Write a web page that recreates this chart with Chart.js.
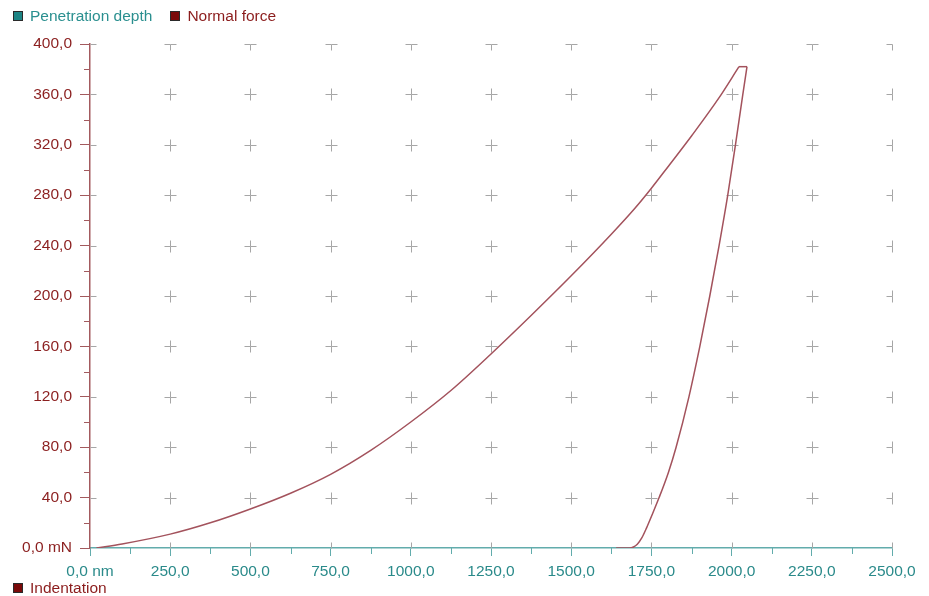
<!DOCTYPE html>
<html>
<head>
<meta charset="utf-8">
<title>Indentation</title>
<script src="https://cdn.jsdelivr.net/npm/chart.js@4.4.0/dist/chart.umd.min.js"></script>
<style>
  body { margin: 0; background: #fff; }
  #wrap { position: relative; width: 929px; height: 596px; font-family: "Liberation Sans", Arial, sans-serif; font-size: 15.5px; }
  #chart { position: absolute; left: 0; top: 0; }
  .legend { position: absolute; display: flex; align-items: center; white-space: nowrap; line-height: 16px; }
  .box { display: inline-block; width: 8px; height: 8px; border: 1px solid #2a2a2a; margin-right: 7px; }
</style>
</head>
<body>
<div id="wrap">
  <canvas id="chart" width="929" height="596"></canvas>
  <div class="legend" style="left:13px; top:8px;">
    <span class="box" style="background:#1d8585"></span><span style="color:#2a8f8f">Penetration depth</span>
    <span class="box" style="background:#7a0a0a; margin-left:18px"></span><span style="color:#8b1c1c">Normal force</span>
  </div>
  <div class="legend" style="left:13px; top:580px;">
    <span class="box" style="background:#7a0a0a"></span><span style="color:#8b1c1c">Indentation</span>
  </div>
</div>
<script>
// loading branch (nm / mN)
const loadDepth = [20, 100, 250, 375, 500, 625, 750, 875, 1000, 1125, 1250, 1375, 1500, 1625, 1700, 1750, 1800, 1875, 1960, 2023];
const loadForce = [0, 3.2, 11, 20, 31, 43.5, 58.5, 77.5, 100, 125, 154, 184.5, 216, 249, 270, 285.5, 302, 327, 357, 382];

// hold at max load
const holdDepth = [2023, 2048];
const holdForce = [382, 382];

// unloading branch
const unloadDepth = [2048, 2035, 2012, 1988, 1961, 1932, 1901, 1867, 1827, 1803, 1774, 1750, 1735, 1720, 1706, 1694, 1682, 1640];
const unloadForce = [382, 360, 320, 280, 240, 200, 160, 120, 80, 60, 40, 25, 16, 8, 3, 0.8, 0, 0];

const depthTicks = [0, 250, 500, 750, 1000, 1250, 1500, 1750, 2000, 2250, 2500];
const forceTicks = [0, 40, 80, 120, 160, 200, 240, 280, 320, 360, 400];

const curveColor = '#a3525c';
const forceAxisColor = '#a35a5e';
const forceLabelColor = '#8b1f1f';
const depthAxisColor = '#62acac';
const depthLabelColor = '#2a8a8a';
const labelFont = { family: '"Liberation Sans", Arial, sans-serif', size: 15.5 };

const toPoints = (xs, ys) => xs.map((v, i) => ({ x: v, y: ys[i] }));
const fmt = v => v.toFixed(1).replace('.', ',');

// grey "+" marks at every grid crossing, plus the minor ticks on both axes
const crossMarks = {
  id: 'crossMarks',
  beforeDatasetsDraw(chart) {
    const { ctx, scales: { x, y }, chartArea } = chart;
    const arm = 6;
    ctx.save();
    ctx.lineWidth = 1;
    ctx.strokeStyle = '#a6a6a6';
    ctx.beginPath();
    depthTicks.forEach(xv => {
      forceTicks.forEach(yv => {
        const px = Math.round(x.getPixelForValue(xv)) + 0.5;
        const py = Math.round(y.getPixelForValue(yv)) + 0.5;
        if (yv > y.min) {
          if (xv > x.min) { ctx.moveTo(px - arm, py); ctx.lineTo(px, py); }
          if (xv < x.max) { ctx.moveTo(px, py); ctx.lineTo(px + arm, py); }
        }
        if (xv > x.min) {
          if (yv < y.max) { ctx.moveTo(px, py); ctx.lineTo(px, py - arm); }
          if (yv > y.min) { ctx.moveTo(px, py); ctx.lineTo(px, py + arm); }
        }
      });
    });
    ctx.stroke();

    // minor ticks
    ctx.strokeStyle = forceAxisColor;
    ctx.beginPath();
    for (let v = 20; v < 400; v += 40) {
      const py = Math.round(y.getPixelForValue(v)) + 0.5;
      ctx.moveTo(chartArea.left - 6, py);
      ctx.lineTo(chartArea.left, py);
    }
    ctx.stroke();
    ctx.strokeStyle = depthAxisColor;
    ctx.beginPath();
    for (let v = 125; v < 2500; v += 250) {
      const px = Math.round(x.getPixelForValue(v)) + 0.5;
      ctx.moveTo(px, chartArea.bottom);
      ctx.lineTo(px, chartArea.bottom + 6);
    }
    ctx.stroke();
    ctx.restore();
  }
};

const lineStyle = { borderColor: curveColor, borderWidth: 1.5, pointRadius: 0, showLine: true, fill: false };

new Chart(document.getElementById('chart'), {
  type: 'scatter',
  data: {
    datasets: [
      { label: 'Indentation', data: toPoints(loadDepth, loadForce), cubicInterpolationMode: 'monotone', ...lineStyle },
      { label: 'Hold', data: toPoints(holdDepth, holdForce), ...lineStyle },
      { label: 'Unload', data: toPoints(unloadDepth, unloadForce), cubicInterpolationMode: 'monotone', ...lineStyle }
    ]
  },
  options: {
    responsive: false,
    animation: false,
    devicePixelRatio: 1,
    layout: { padding: { top: 44, right: 37, bottom: 18, left: 0 } },
    plugins: { legend: { display: false }, tooltip: { enabled: false } },
    scales: {
      x: {
        type: 'linear',
        min: 0,
        max: 2500,
        afterBuildTicks: scale => { scale.ticks = depthTicks.map(v => ({ value: v })); },
        afterFit: scale => { scale.height = 30; },
        border: { color: depthAxisColor, width: 1.5 },
        grid: { drawOnChartArea: false, drawTicks: true, tickLength: 8, color: depthAxisColor, tickColor: depthAxisColor },
        ticks: {
          color: depthLabelColor,
          padding: 6,
          maxRotation: 0,
          font: labelFont,
          callback: v => v === 0 ? '0,0 nm' : fmt(v)
        }
      },
      y: {
        type: 'linear',
        min: 0,
        max: 400,
        afterBuildTicks: scale => { scale.ticks = forceTicks.map(v => ({ value: v })); },
        afterFit: scale => { scale.width = 90; },
        border: { color: forceAxisColor, width: 1.5 },
        grid: { drawOnChartArea: false, drawTicks: true, tickLength: 10, color: forceAxisColor, tickColor: forceAxisColor },
        ticks: {
          color: forceLabelColor,
          padding: 8,
          font: labelFont,
          callback: v => v === 0 ? '0,0 mN' : fmt(v)
        }
      }
    }
  },
  plugins: [crossMarks]
});
</script>
</body>
</html>
